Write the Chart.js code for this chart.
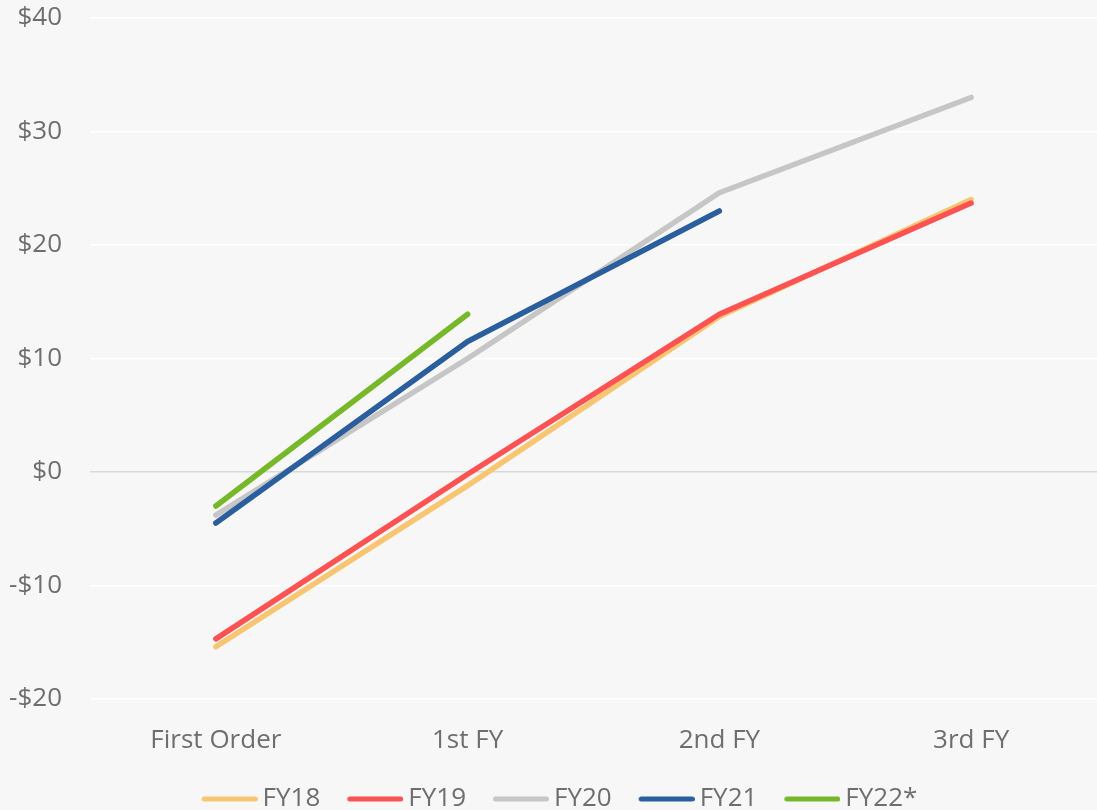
<!DOCTYPE html>
<html>
<head>
<meta charset="utf-8">
<script src="https://cdn.jsdelivr.net/npm/chart.js@4.4.1/dist/chart.umd.min.js"></script>
<style>
  html, body { margin: 0; padding: 0; background: #f7f7f7; }
  #wrap { width: 1097px; height: 810px; }
</style>
</head>
<body>
<div id="wrap"><canvas id="c" width="1097" height="810"></canvas></div>
<script>
// Cumulative contribution per customer by cohort
const categories = ['First Order', '1st FY', '2nd FY', '3rd FY'];
const fy18 = [-15.4, -1.2, 13.7, 24.0];
const fy19 = [-14.7, -0.2, 13.9, 23.7];
const fy20 = [-3.8, 10.0, 24.6, 33.0];
const fy21 = [-4.5, 11.5, 23.0, null];
const fy22 = [-3.0, 13.9, null, null];
const yTicks = [-20, -10, 0, 10, 20, 30, 40];

const seriesNames = ['FY18', 'FY19', 'FY20', 'FY21', 'FY22*'];
const seriesColors = ['#f8c672', '#ff5252', '#c6c6c6', '#2b5e9c', '#77b82a'];

const FONT = 'Open Sans';
const TEXT = '#6e6e6e';
const FONT_SIZE = 26;

// Legend swatches: a rounded 56px bar, placed so the label sits just after it
const SWATCH_BOX = 75;         // legend box width reserved before the label
const SWATCH_LEN = 56;
function swatch(color) {
  const w = 91, h = 6;
  const cv = document.createElement('canvas');
  cv.width = w; cv.height = h;
  const g = cv.getContext('2d');
  g.strokeStyle = color;
  g.lineWidth = 5;
  g.lineCap = 'round';
  g.beginPath();
  g.moveTo(w - SWATCH_LEN + 2.5, h / 2);
  g.lineTo(w - 2.5, h / 2);
  g.stroke();
  return cv;
}
const swatches = seriesColors.map(swatch);

function series(i, data) {
  return {
    label: seriesNames[i],
    data,
    order: seriesNames.length - i,   // later cohorts drawn on top
    borderColor: seriesColors[i],
    backgroundColor: seriesColors[i],
    borderWidth: 5.5,
    borderCapStyle: 'round',
    borderJoinStyle: 'round',
    pointRadius: 0,
    pointHoverRadius: 0,
    tension: 0,
    spanGaps: false
  };
}

new Chart(document.getElementById('c'), {
  type: 'line',
  data: {
    labels: categories,
    datasets: [fy18, fy19, fy20, fy21, fy22].map((d, i) => series(i, d))
  },
  options: {
    responsive: false,
    animation: false,
    events: [],
    layout: { padding: { top: 18, right: 0, left: -5, bottom: -12 } },
    plugins: {
      tooltip: { enabled: false },
      legend: {
        position: 'bottom',
        labels: {
          usePointStyle: true,
          pointStyleWidth: SWATCH_BOX,
          boxHeight: 6,
          padding: 0,
          color: TEXT,
          font: { family: FONT, size: FONT_SIZE },
          sort: (a, b) => a.datasetIndex - b.datasetIndex,
          generateLabels: (chart) =>
            Chart.defaults.plugins.legend.labels.generateLabels(chart).map((item) => {
              item.pointStyle = swatches[item.datasetIndex];
              return item;
            })
        }
      }
    },
    scales: {
      x: {
        offset: true,
        grid: { display: false, drawTicks: false },
        border: { display: false },
        ticks: { color: TEXT, font: { family: FONT, size: FONT_SIZE }, padding: 26 },
        afterFit: (axis) => { axis.height = 87; }
      },
      y: {
        min: -20, max: 40,
        afterBuildTicks: (axis) => { axis.ticks = yTicks.map(v => ({ value: v })); },
        afterFit: (axis) => {
          axis.width = 95;
          axis.paddingTop = 0;
          axis.paddingBottom = 0;
        },
        grid: {
          drawTicks: false,
          lineWidth: 1.5,
          color: (ctx) => ctx.tick && ctx.tick.value === 0 ? '#d9d9d9' : '#ffffff'
        },
        border: { display: false },
        ticks: {
          color: TEXT,
          padding: 28,
          font: { family: FONT, size: FONT_SIZE },
          callback: (v) => (v < 0 ? '-$' + Math.abs(v) : '$' + v)
        }
      }
    }
  }
});
</script>
</body>
</html>
